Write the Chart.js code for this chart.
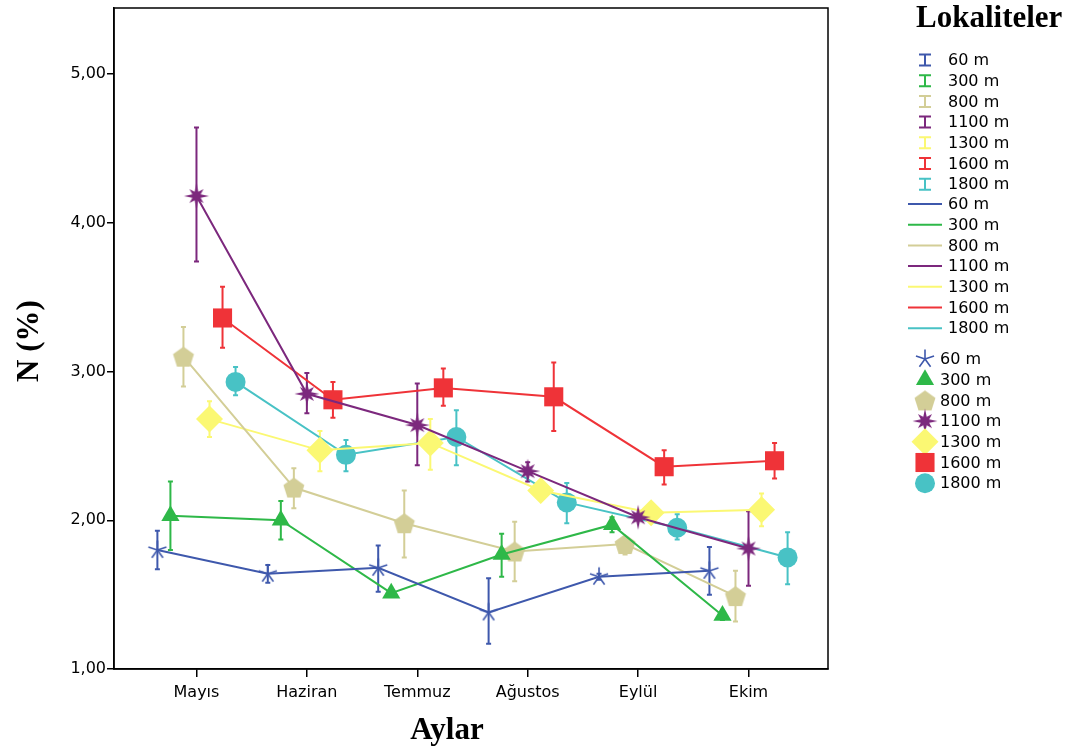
<!DOCTYPE html>
<html>
<head>
<meta charset="utf-8">
<script src="https://cdn.jsdelivr.net/npm/chart.js@4/dist/chart.umd.min.js"></script>
<style>
  html, body { margin: 0; padding: 0; background: #fff; }
  #wrap { width: 1074px; height: 749px; }
</style>
</head>
<body>
<div id="wrap"><canvas id="chart" width="1074" height="749"></canvas></div>
<script>
// months on the x axis
const months = ['Mayıs', 'Haziran', 'Temmuz', 'Ağustos', 'Eylül', 'Ekim'];
const yTicks = [1, 2, 3, 4, 5];

// locality names and SPSS-style colours
const localities = ['60 m', '300 m', '800 m', '1100 m', '1300 m', '1600 m', '1800 m'];
const colors = ['#3E58AC', '#2EB848', '#D3CE97', '#7C287D', '#FBF873', '#EF3338', '#48C2C5'];

// mean N (%) per month
const n60   = [1.80, 1.64, 1.68, 1.38, 1.62, 1.66];
const n300  = [2.03, 2.00, 1.51, 1.77, 1.97, 1.36];
const n800  = [3.10, 2.22, 1.98, 1.79, 1.84, 1.49];
const n1100 = [4.18, 2.85, 2.64, 2.33, 2.02, 1.81];
const n1300 = [2.68, 2.47, 2.52, 2.20, 2.05, 2.07];
const n1600 = [3.36, 2.81, 2.89, 2.83, 2.36, 2.40];
const n1800 = [2.93, 2.44, 2.56, 2.12, 1.95, 1.75];

// error bar lower / upper limits
const lo60   = [1.67, 1.58, 1.52, 1.17, 1.60, 1.50];
const hi60   = [1.93, 1.70, 1.83, 1.61, 1.64, 1.82];
const lo300  = [1.80, 1.87, 1.49, 1.62, 1.92, 1.33];
const hi300  = [2.26, 2.13, 1.53, 1.91, 2.02, 1.39];
const lo800  = [2.90, 2.08, 1.75, 1.59, 1.77, 1.32];
const hi800  = [3.30, 2.35, 2.20, 1.99, 1.88, 1.66];
const lo1100 = [3.74, 2.72, 2.37, 2.26, 2.00, 1.56];
const hi1100 = [4.64, 2.99, 2.92, 2.39, 2.04, 2.06];
const lo1300 = [2.56, 2.33, 2.34, 2.17, 2.02, 1.96];
const hi1300 = [2.80, 2.60, 2.68, 2.23, 2.08, 2.18];
const lo1600 = [3.16, 2.69, 2.77, 2.60, 2.24, 2.28];
const hi1600 = [3.57, 2.93, 3.02, 3.06, 2.47, 2.52];
const lo1800 = [2.84, 2.33, 2.37, 1.98, 1.87, 1.57];
const hi1800 = [3.03, 2.54, 2.74, 2.25, 2.04, 1.92];

const means = [n60, n300, n800, n1100, n1300, n1600, n1800];
const lows  = [lo60, lo300, lo800, lo1100, lo1300, lo1600, lo1800];
const highs = [hi60, hi300, hi800, hi1100, hi1300, hi1600, hi1800];

// each locality is nudged sideways inside its month
const shift = 0.118;
const xPos = (s, i) => i + (s - 3) * shift;

// markers Chart.js has no built-in style for
function makeMarker(w, h, draw) {
    const c = document.createElement('canvas');
    c.width = w;
    c.height = h;
    draw(c.getContext('2d'), w / 2, h / 2);
    return c;
}

const asterisk = makeMarker(22, 22, (g, cx, cy) => {
    g.strokeStyle = colors[0];
    g.lineWidth = 1.6;
    g.beginPath();
    for (let k = 0; k < 5; k++) {
        const a = Math.PI / 2 + k * 2 * Math.PI / 5;
        g.moveTo(cx, cy);
        g.lineTo(cx + 9.5 * Math.cos(a), cy - 9.5 * Math.sin(a));
    }
    g.stroke();
});

const pentagon = makeMarker(24, 24, (g, cx, cy) => {
    g.fillStyle = colors[2];
    g.beginPath();
    for (let k = 0; k < 5; k++) {
        const a = Math.PI / 2 + k * 2 * Math.PI / 5;
        g.lineTo(cx + 11 * Math.cos(a), cy + 1 - 11 * Math.sin(a));
    }
    g.closePath();
    g.fill();
});

const spikyStar = makeMarker(28, 28, (g, cx, cy) => {
    g.fillStyle = colors[3];
    g.beginPath();
    for (let k = 0; k < 16; k++) {
        const a = k * Math.PI / 8;
        const r = k % 2 === 0 ? (k % 4 === 0 ? 12.5 : 10) : 4.5;
        g.lineTo(cx + r * Math.cos(a), cy - r * Math.sin(a));
    }
    g.closePath();
    g.fill();
});

const pointStyles = [asterisk, 'triangle', pentagon, spikyStar, 'rectRot', 'rect', 'circle'];
const pointRadii = [10, 10.5, 11, 12, 13.5, 13.5, 10];

const datasets = localities.map((name, s) => ({
    label: name,
    data: means[s].map((v, i) => ({ x: xPos(s, i), y: v })),
    borderColor: colors[s],
    backgroundColor: colors[s],
    borderWidth: 2,
    pointStyle: pointStyles[s],
    pointRadius: pointRadii[s],
    pointHoverRadius: pointRadii[s],
    pointBorderWidth: 0,
    tension: 0
}));

function drawMarker(ctx, s, x, y) {
    const style = pointStyles[s];
    if (typeof style === 'string') {
        ctx.fillStyle = colors[s];
        Chart.helpers.drawPoint(ctx, { pointStyle: style, radius: pointRadii[s], rotation: 0, borderWidth: 0 }, x, y);
    } else {
        ctx.drawImage(style, x - style.width / 2, y - style.height / 2);
    }
}

const extras = {
    id: 'extras',
    beforeDatasetsDraw(chart) {
        // error bars
        const { ctx, scales: { x, y } } = chart;
        ctx.save();
        ctx.lineWidth = 2;
        localities.forEach((_, s) => {
            ctx.strokeStyle = colors[s];
            lows[s].forEach((lo, i) => {
                const px = x.getPixelForValue(xPos(s, i));
                const y1 = y.getPixelForValue(lo);
                const y2 = y.getPixelForValue(highs[s][i]);
                ctx.beginPath();
                ctx.moveTo(px, y1); ctx.lineTo(px, y2);
                ctx.moveTo(px - 2.5, y1); ctx.lineTo(px + 2.5, y1);
                ctx.moveTo(px - 2.5, y2); ctx.lineTo(px + 2.5, y2);
                ctx.stroke();
            });
        });
        ctx.restore();
    },
    afterDraw(chart) {
        const { ctx, chartArea: a } = chart;
        ctx.save();

        // frame
        ctx.strokeStyle = '#000';
        ctx.lineWidth = 1.5;
        ctx.strokeRect(a.left, a.top, a.right - a.left, a.bottom - a.top);

        // axis titles
        ctx.fillStyle = '#000';
        ctx.font = 'bold 31px "Liberation Serif"';
        ctx.textAlign = 'center';
        ctx.textBaseline = 'middle';
        ctx.fillText('Aylar', 447, 731);
        ctx.save();
        ctx.translate(30, 341);
        ctx.rotate(-Math.PI / 2);
        ctx.fillText('N (%)', 0, 0);
        ctx.restore();

        // legend
        ctx.textAlign = 'left';
        ctx.textBaseline = 'alphabetic';
        ctx.fillText('Lokaliteler', 916, 27);

        const step = 20.7;
        ctx.font = '16px "DejaVu Sans"';
        ctx.textBaseline = 'middle';
        localities.forEach((name, s) => {
            // error bar key
            let yy = 60 + s * step;
            ctx.strokeStyle = colors[s];
            ctx.lineWidth = 2;
            ctx.beginPath();
            ctx.moveTo(925, yy - 5.5); ctx.lineTo(925, yy + 5.5);
            ctx.moveTo(919, yy - 5.5); ctx.lineTo(931, yy - 5.5);
            ctx.moveTo(919, yy + 5.5); ctx.lineTo(931, yy + 5.5);
            ctx.stroke();
            ctx.fillStyle = '#000';
            ctx.fillText(name, 948, yy + 1);

            // line key
            yy = 204 + s * step;
            ctx.beginPath();
            ctx.moveTo(908, yy); ctx.lineTo(942, yy);
            ctx.stroke();
            ctx.fillText(name, 948, yy + 1);

            // marker key
            yy = 359 + s * step;
            drawMarker(ctx, s, 925, yy);
            ctx.fillStyle = '#000';
            ctx.fillText(name, 940, yy + 1);
        });
        ctx.restore();
    }
};

new Chart(document.getElementById('chart'), {
    type: 'line',
    data: { datasets },
    plugins: [extras],
    options: {
        responsive: false,
        animation: false,
        layout: {
            autoPadding: false,
            padding: { top: 8, right: 246, left: 0, bottom: 0 }
        },
        plugins: {
            legend: { display: false },
            tooltip: { enabled: false }
        },
        scales: {
            x: {
                type: 'linear',
                min: -0.747,
                max: 5.72,
                afterBuildTicks: scale => { scale.ticks = months.map((m, i) => ({ value: i })); },
                afterFit: scale => { scale.height = 80; },
                ticks: {
                    callback: (value, index) => months[index],
                    autoSkip: false,
                    maxRotation: 0,
                    padding: 6,
                    color: '#000',
                    font: { family: 'DejaVu Sans', size: 16 }
                },
                grid: { drawOnChartArea: false, tickLength: 8, color: '#000', lineWidth: 1.5 },
                border: { color: '#000', width: 1.5 }
            },
            y: {
                min: 1,
                max: 5.444,
                afterBuildTicks: scale => { scale.ticks = yTicks.map(v => ({ value: v })); },
                afterFit: scale => {
                    scale.width = 114;
                    scale.paddingTop = 0;
                    scale.paddingBottom = 0;
                },
                ticks: {
                    callback: value => value.toFixed(2).replace('.', ','),
                    padding: 1,
                    color: '#000',
                    font: { family: 'DejaVu Sans', size: 16 }
                },
                grid: { drawOnChartArea: false, tickLength: 7, color: '#000', lineWidth: 1.5 },
                border: { color: '#000', width: 1.5 }
            }
        }
    }
});
</script>
</body>
</html>
